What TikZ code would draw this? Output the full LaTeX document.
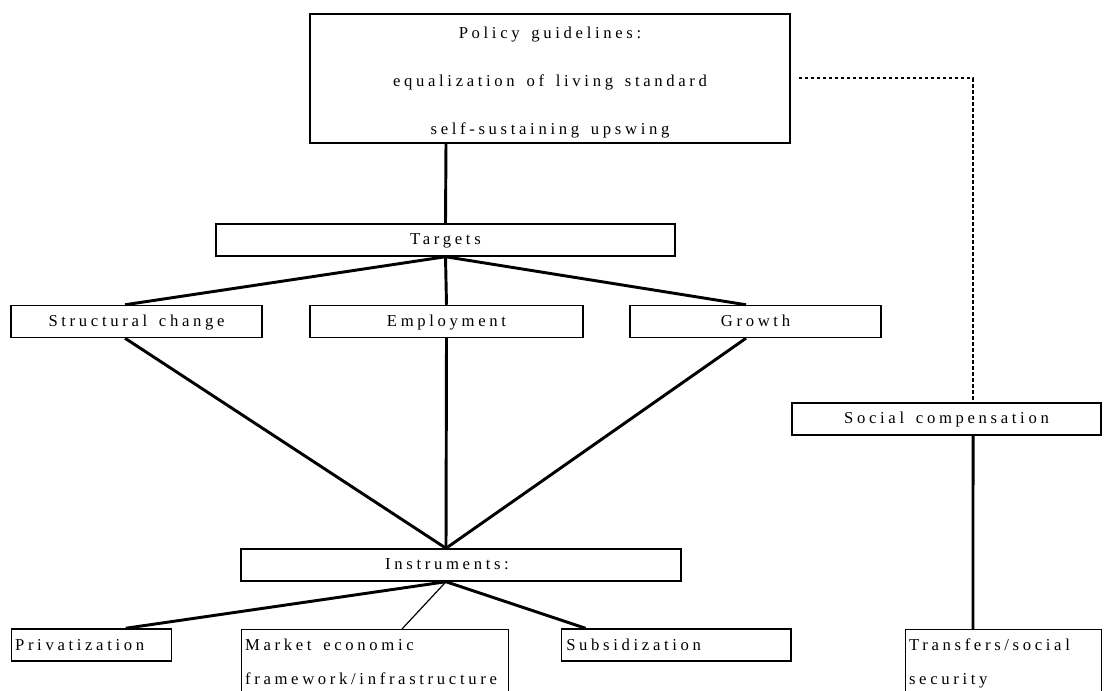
\documentclass[tikz,border=0pt]{standalone}
\usepackage{fontspec}
\setmainfont{Liberation Serif}[LetterSpace=22,WordSpace=1.5]
\usepackage{tikz}
\usetikzlibrary{positioning}

\begin{document}
\begin{tikzpicture}[x=0.75pt,y=-0.75pt,
                    font=\fontsize{12.5}{25.5}\selectfont,
                    box/.style={draw,line width=1.1pt,minimum height=24pt,inner sep=0pt,
                                text height=10pt,text depth=2.5pt},
                    sbox/.style={box,align=flush left,anchor=west,inner xsep=2.5pt},
                    lbox/.style={draw,line width=1.1pt,align=flush left,anchor=north west,
                                 inner xsep=2.5pt,inner ysep=6.75pt},
                    link/.style={line width=2.2pt},
                    thinlink/.style={line width=0.9pt},
                    dotlink/.style={line width=1.5pt,dash pattern=on 2.5pt off 2pt}]
  \clip (0,0) rectangle (1104,691);

  % top
  \node[draw,line width=1.1pt,minimum width=360pt,minimum height=96.75pt,align=center,
        inner sep=0pt,font=\fontsize{12.5}{36}\selectfont] (policy) at (550,78.5)
        {\rule{0pt}{14.5pt}Policy guidelines:\\equalization of living standard\\self-sustaining upswing};
  \node[box,minimum width=344pt] (targets) at (445.5,240) {Targets};

  % targets
  \node[box,minimum width=188pt] (struct) at (136.5,321.5) {Structural change};
  \node[box,minimum width=205pt] (employ) at (446.5,321.5) {Employment};
  \node[box,minimum width=188pt] (growth) at (755.5,321.5) {Growth};

  \node[box,minimum width=232pt] (social) at (946.5,419) {Social compensation};
  \node[box,minimum width=330pt] (instr) at (461,565) {Instruments:\hspace*{21pt}};

  % instruments
  \node[sbox,text width=115pt] (priv) at (11,645) {Privatization};
  \node[lbox,text width=195pt] (market) at (241,629) {Market economic\\framework/infrastructure};
  \node[sbox,text width=165pt,inner xsep=3.4pt] (subsid) at (561,645) {Subsidization};
  \node[lbox,text width=142pt] (transf) at (905,629) {Transfers/social\\security};

  \draw[link] ([xshift=-78pt]policy.south) -- (targets.north);
  \draw[link] (targets.south) -- ([xshift=-8.6pt]struct.north);
  \draw[link] (targets.south) -- (employ.north);
  \draw[link] (targets.south) -- ([xshift=-7.1pt]growth.north);

  \draw[link] ([xshift=-8.6pt]struct.south) -- ([xshift=-11.25pt]instr.north);
  \draw[link] (employ.south) -- ([xshift=-11.25pt]instr.north);
  \draw[link] ([xshift=-7.1pt]growth.south) -- ([xshift=-11.25pt]instr.north);

  \draw[link] ([xshift=-11.25pt]instr.south) -- ([xshift=25.5pt]priv.north);
  \draw[thinlink] ([xshift=-11.25pt]instr.south) -- ([xshift=120.75pt]market.north west);
  \draw[link] ([xshift=-11.25pt]instr.south) -- ([xshift=-68pt]subsid.north);

  % social side
  \draw[dotlink] ([xshift=6pt]policy.east) -| ([xshift=19.9pt]social.north);
  \draw[link] ([xshift=19.9pt]social.south) -- ([xshift=51pt]transf.north west);
\end{tikzpicture}
\end{document}
